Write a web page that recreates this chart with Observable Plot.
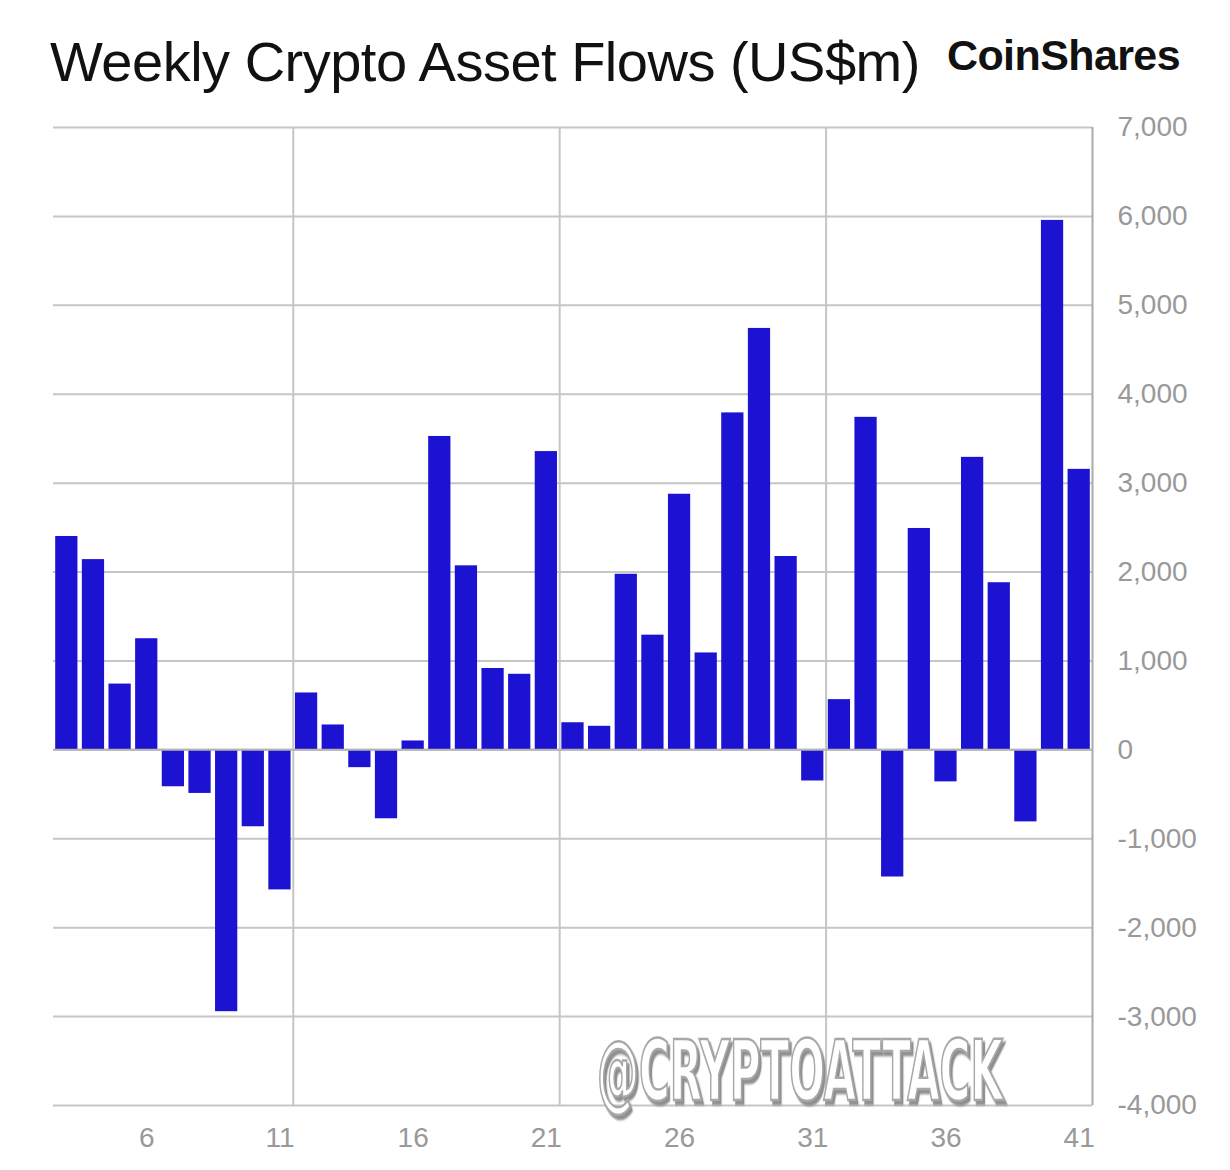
<!DOCTYPE html>
<html>
<head>
<meta charset="utf-8">
<script src="https://cdn.jsdelivr.net/npm/d3@7"></script>
<script src="https://cdn.jsdelivr.net/npm/@observablehq/plot@0.6"></script>
<style>
  html, body { margin: 0; padding: 0; background: #fff; }
  #wrap { position: relative; width: 1230px; height: 1170px; }
  #title { position: absolute; left: 50px; top: 30px; font-family: "Liberation Sans", Arial, sans-serif; font-size: 56px; line-height: 64px; color: #111; white-space: nowrap; letter-spacing: -0.5px; }
  #logo { position: absolute; left: 947px; top: 30px; font-family: "Liberation Sans", Arial, sans-serif; font-weight: bold; font-size: 43px; line-height: 50px; color: #111; letter-spacing: -0.6px; white-space: nowrap; }
  #chart { position: absolute; left: 0; top: 0; }
</style>
</head>
<body>
<div id="wrap">
  <div id="chart"></div>
  <div id="title">Weekly Crypto Asset Flows (US$m)</div>
  <div id="logo">CoinShares</div>
</div>
<script>
// Week numbers (x categories)
const weeks = [3,4,5,6,7,8,9,10,11,12,13,14,15,16,17,18,19,20,21,22,23,24,25,26,27,28,29,30,31,32,33,34,35,36,37,38,39,40,41];
// Weekly flows, US$m
const flows = [2400,2140,740,1250,-415,-490,-2945,-865,-1575,640,280,-200,-775,100,3525,2070,915,850,3355,305,265,1975,1290,2875,1090,3790,4740,2175,-350,565,3740,-1430,2490,-360,3290,1880,-810,5955,3155];
// Axis ticks
const xTicks = [6,11,16,21,26,31,36,41];
const yTicks = [-4000,-3000,-2000,-1000,0,1000,2000,3000,4000,5000,6000,7000];
// Vertical grid positions (between week groups)
const xGrid = [11.5, 21.5, 31.5];
const xEdge = [41.5];

const data = weeks.map((w, i) => ({week: w, value: flows[i]}));
const fmt = d3.formatLocale({decimal: ".", thousands: ",", grouping: [3], currency: ["$", ""], minus: "-"}).format(",");

const chart = Plot.plot({
  width: 1230,
  height: 1170,
  marginTop: 127,
  marginBottom: 65,
  marginLeft: 53,
  marginRight: 138,
  style: {fontFamily: "Liberation Sans, Arial, sans-serif", fontSize: "28px", color: "#999", background: "#fff"},
  x: {type: "linear", domain: [weeks[0] - 0.5, weeks[weeks.length - 1] + 0.5]},
  y: {domain: [-4000, 7000]},
  marks: [
    Plot.ruleY(yTicks, {stroke: "#c6c6c6", strokeWidth: 2, strokeOpacity: 1}),
    Plot.ruleX(xGrid, {stroke: "#c6c6c6", strokeWidth: 2, strokeOpacity: 1}),
    Plot.ruleX(xEdge, {stroke: "#aaaaaa", strokeWidth: 2, strokeOpacity: 1}),
    Plot.rectY(data, {x1: d => d.week - 0.5, x2: d => d.week + 0.5, y: "value", fill: "#1c12d2", insetLeft: 2.2, insetRight: 2.2}),
    Plot.ruleY([0], {stroke: "#b4b4b4", strokeWidth: 2}),
    Plot.axisY(yTicks, {anchor: "right", tickSize: 0, tickPadding: 25, tickFormat: fmt, fill: "#999", fontSize: 28, label: null}),
    Plot.axisX(xTicks, {anchor: "bottom", tickSize: 0, tickPadding: 22, tickFormat: d => String(d), fill: "#999", fontSize: 28, label: null})
  ]
});
document.getElementById("chart").appendChild(chart);

// watermark (condensed via horizontal scaling, drop shadow via filter)
const svg = d3.select(chart);
const defs = svg.append("defs");
const flt = defs.append("filter").attr("id", "wmShadow").attr("x", "-10%").attr("y", "-10%").attr("width", "130%").attr("height", "130%");
flt.append("feDropShadow").attr("dx", 4).attr("dy", 4).attr("stdDeviation", 0.8).attr("flood-color", "#8f8f8f").attr("flood-opacity", 1);
const targetW = 406;
const g = svg.append("g").attr("text-anchor", "start")
  .attr("font-family", "Liberation Sans Narrow, DejaVu Sans Condensed, Liberation Sans, sans-serif")
  .attr("font-weight", "bold").attr("font-size", 84);
const t = g.append("text").attr("x", 0).attr("y", 0)
  .attr("fill", "#ffffff").attr("stroke", "#a8a8a8").attr("stroke-width", 2.5)
  .attr("filter", "url(#wmShadow)").text("@CRYPTOATTACK");
const len = t.node().getComputedTextLength() || 600;
g.attr("transform", `translate(597,1100) scale(${targetW / len},1)`);
</script>
</body>
</html>
